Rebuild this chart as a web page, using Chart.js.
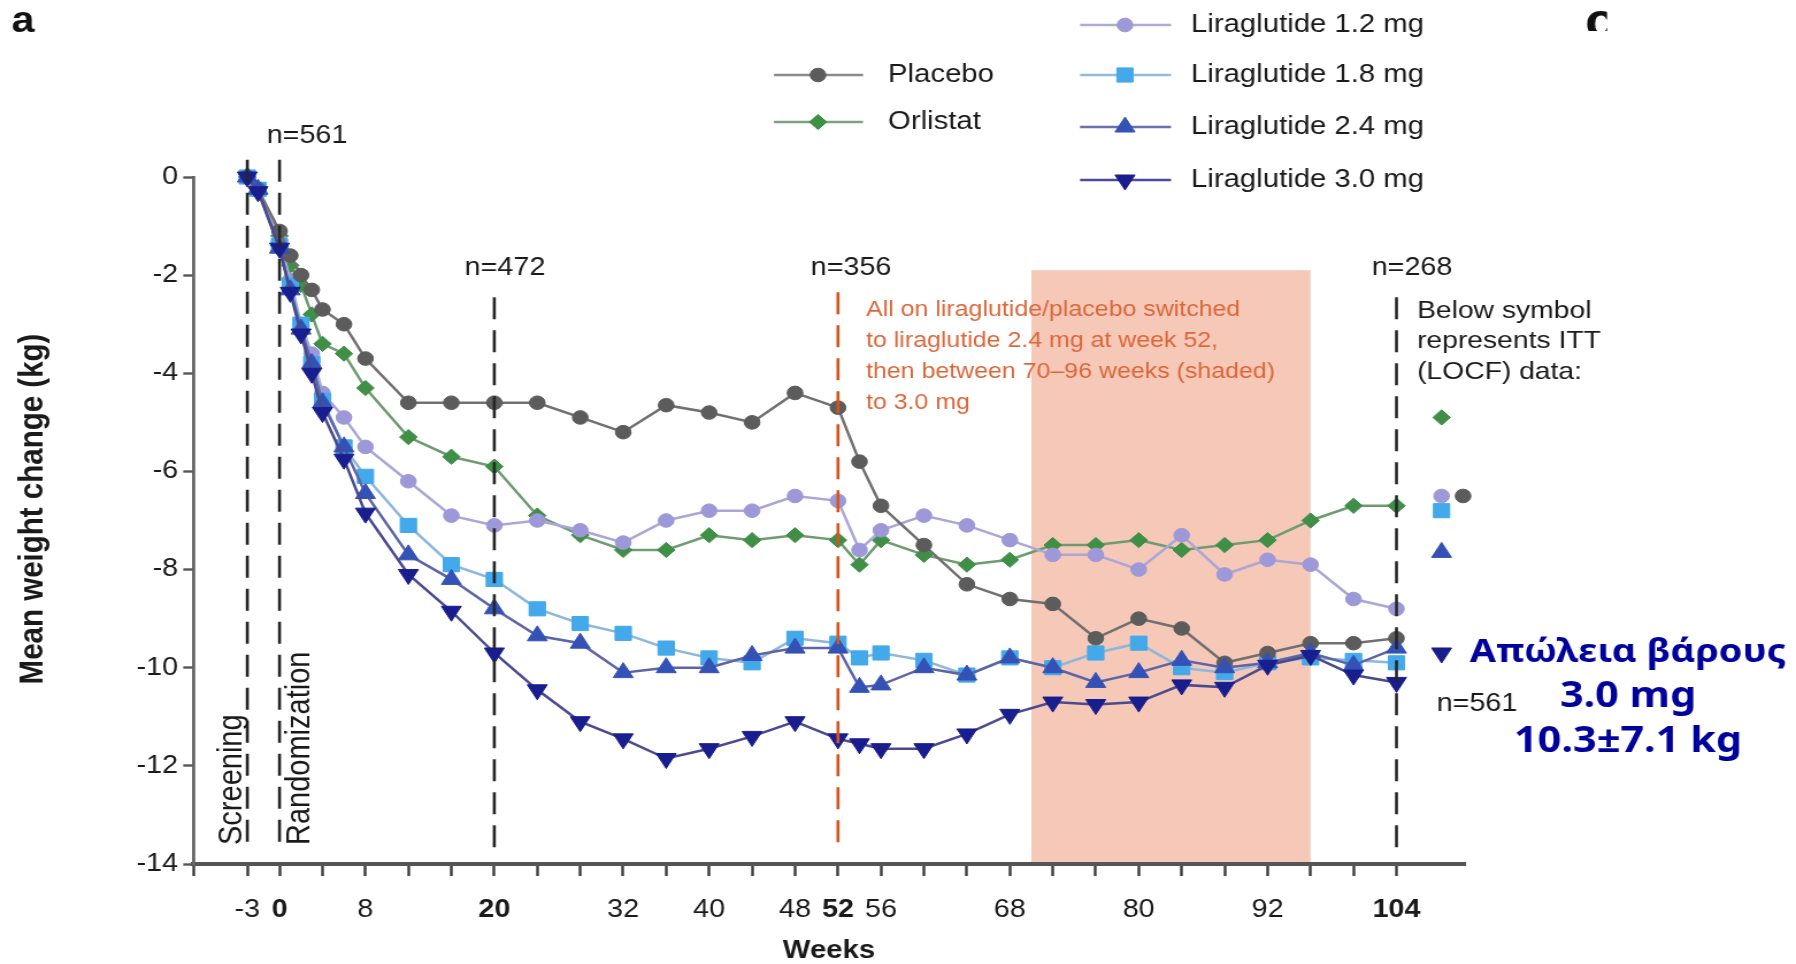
<!DOCTYPE html>
<html>
<head>
<meta charset="utf-8">
<script src="https://cdn.jsdelivr.net/npm/chart.js@4.4.1/dist/chart.umd.min.js"></script>
<style>
  html, body { margin: 0; padding: 0; background: #fff; overflow: hidden; }
  #wrap { width: 1562px; height: 964px; transform: scaleX(1.14981); transform-origin: 0 0; }
  canvas { display: block; }
</style>
</head>
<body>
<div id="wrap"><canvas id="chart" width="1562" height="964"></canvas></div>
<script>
// ---- data -------------------------------------------------------------
const weeks = [-3, -2, 0, 1, 2, 3, 4, 6, 8, 12, 16, 20, 24, 28, 32, 36, 40, 44, 48, 52, 54, 56, 60, 64, 68, 72, 76, 80, 84, 88, 92, 96, 100, 104];

const placebo = [0, -0.25, -1.1, -1.6, -2.0, -2.3, -2.7, -3.0, -3.7, -4.6, -4.6, -4.6, -4.6, -4.9, -5.2, -4.65, -4.8, -5.0, -4.4, -4.7, -5.8, -6.7, -7.5, -8.3, -8.6, -8.7, -9.4, -9.0, -9.2, -9.9, -9.7, -9.5, -9.5, -9.4];
const orlistat = [0, -0.3, -1.2, -1.8, -2.2, -2.8, -3.4, -3.6, -4.3, -5.3, -5.7, -5.9, -6.9, -7.3, -7.6, -7.6, -7.3, -7.4, -7.3, -7.4, -7.9, -7.4, -7.7, -7.9, -7.8, -7.5, -7.5, -7.4, -7.6, -7.5, -7.4, -7.0, -6.7, -6.7];
const lira12 = [0, -0.25, -1.3, -2.1, -3.0, -3.6, -4.4, -4.9, -5.5, -6.2, -6.9, -7.1, -7.0, -7.2, -7.45, -7.0, -6.8, -6.8, -6.5, -6.6, -7.6, -7.2, -6.9, -7.1, -7.4, -7.7, -7.7, -8.0, -7.3, -8.1, -7.8, -7.9, -8.6, -8.8];
const lira18 = [0, -0.25, -1.4, -2.2, -3.0, -3.8, -4.55, -5.5, -6.1, -7.1, -7.9, -8.2, -8.8, -9.1, -9.3, -9.6, -9.8, -9.9, -9.4, -9.5, -9.8, -9.7, -9.85, -10.15, -9.8, -10.0, -9.7, -9.5, -10.0, -10.1, -9.9, -9.8, -9.85, -9.9];
const lira24 = [0, -0.25, -1.45, -2.3, -3.1, -3.8, -4.6, -5.5, -6.45, -7.7, -8.2, -8.8, -9.35, -9.5, -10.1, -10.0, -10.0, -9.75, -9.6, -9.6, -10.4, -10.35, -10.0, -10.15, -9.8, -10.0, -10.3, -10.1, -9.85, -10.0, -9.9, -9.7, -9.95, -9.6];
const lira30 = [0, -0.3, -1.45, -2.35, -3.2, -4.0, -4.8, -5.75, -6.85, -8.1, -8.85, -9.7, -10.45, -11.1, -11.45, -11.85, -11.65, -11.4, -11.1, -11.45, -11.55, -11.65, -11.65, -11.35, -10.95, -10.7, -10.75, -10.7, -10.35, -10.4, -9.95, -9.75, -10.15, -10.3];

// ITT (LOCF) values shown to the right of week 104
const ittWeek = 108.2;
const ittWeekPlacebo = 110.2;
const ittPlacebo = -6.5;
const ittOrlistat = -4.9;
const ittLira12 = -6.5;
const ittLira18 = -6.8;
const ittLira24 = -7.65;
const ittLira30 = -9.7;

// axis ticks
const xTickWeeks = [-8, -3, 0, 4, 8, 12, 16, 20, 24, 28, 32, 36, 40, 44, 48, 52, 56, 60, 64, 68, 72, 76, 80, 84, 88, 92, 96, 100, 104];
const xTickLabels = ['-3', '0', '8', '20', '32', '40', '48', '52', '56', '68', '80', '92', '104'];
const xBoldLabels = ['0', '20', '52', '104'];
const yTicks = [0, -2, -4, -6, -8, -10, -12, -14];

// study phases
const shadeWeeks = [70, 96];
const markerWeeks = [-3, 0, 20, 52, 104];

// ---- layout helpers ---------------------------------------------------
const STRETCH = 1796 / 1562;          // the canvas is widened by CSS
const px = v => v / STRETCH;          // page x -> canvas x
const FONT = "'Liberation Sans', Arial, Helvetica, sans-serif";

const styles = {
  placebo: { line: '#707070', mark: '#5c5c5c', shape: 'circle', r: 6.8, rot: 0 },
  orlistat: { line: '#6e9c71', mark: '#3f8f46', shape: 'rectRot', r: 7.6, rot: 0 },
  lira12: { line: '#aaa7d8', mark: '#9d99d9', shape: 'circle', r: 6.8, rot: 0 },
  lira18: { line: '#8db7dc', mark: '#43a9ea', shape: 'rect', r: 10, rot: 0 },
  lira24: { line: '#5d65a8', mark: '#3452b6', shape: 'triangle', r: 10, rot: 0 },
  lira30: { line: '#4a4a8f', mark: '#191e8e', shape: 'triangle', r: 10, rot: 180 }
};

function series(label, vals, st, order) {
  return {
    label,
    data: weeks.map((w, i) => ({ x: w, y: vals[i] })),
    borderColor: st.line,
    backgroundColor: st.mark,
    pointBackgroundColor: st.mark,
    pointBorderColor: st.mark,
    pointBorderWidth: 1,
    pointStyle: st.shape,
    pointRadius: st.r,
    pointRotation: st.rot,
    borderWidth: 2.5,
    tension: 0,
    clip: false,
    order
  };
}

function itt(label, week, val, st, order) {
  return {
    label,
    data: [{ x: week, y: val }],
    showLine: false,
    backgroundColor: st.mark,
    pointBackgroundColor: st.mark,
    pointBorderColor: st.mark,
    pointBorderWidth: 1,
    pointStyle: st.shape,
    pointRadius: st.r,
    pointRotation: st.rot,
    clip: false,
    order
  };
}

function drawMarker(ctx, st, x, y) {
  ctx.save();
  ctx.fillStyle = st.mark;
  ctx.strokeStyle = st.mark;
  ctx.lineWidth = 1;
  if (Chart.helpers && Chart.helpers.drawPoint) {
    Chart.helpers.drawPoint(ctx, { pointStyle: st.shape, radius: st.r, rotation: st.rot, borderWidth: 1 }, x, y);
  }
  ctx.restore();
}

// ---- plugins ----------------------------------------------------------
const backdrop = {
  id: 'backdrop',
  beforeDraw(chart) {
    const { ctx, chartArea } = chart;
    const { x, y } = chart.scales;
    ctx.save();
    ctx.fillStyle = '#ffffff';
    ctx.fillRect(0, 0, chart.width, chart.height);
    const l = x.getPixelForValue(shadeWeeks[0]);
    const r = x.getPixelForValue(shadeWeeks[1]);
    const t = y.getPixelForValue(-1.9);
    ctx.fillStyle = 'rgb(246, 200, 184)';
    ctx.fillRect(l, t, r - l, chartArea.bottom - 2 - t);
    ctx.restore();
  }
};

const phaseLines = {
  id: 'phaseLines',
  afterDatasetsDraw(chart) {
    const { ctx } = chart;
    const { x, y } = chart.scales;
    const tops = { '-3': 0.35, '0': 0.35, '20': -2.45, '52': -2.35, '104': -2.45 };
    ctx.save();
    ctx.lineWidth = 2.6;
    ctx.setLineDash([22, 11]);
    markerWeeks.forEach(w => {
      const xp = x.getPixelForValue(w);
      ctx.strokeStyle = w === 52 ? '#d4561f' : '#262626';
      ctx.beginPath();
      ctx.moveTo(xp, y.getPixelForValue(tops[String(w)]));
      ctx.lineTo(xp, y.getPixelForValue(-13.7));
      ctx.stroke();
    });
    ctx.restore();
  }
};

const annotations = {
  id: 'annotations',
  afterDraw(chart) {
    const { ctx } = chart;
    ctx.save();
    ctx.textBaseline = 'middle';

    // panel letter
    ctx.fillStyle = '#111';
    ctx.font = `bold 36px ${FONT}`;
    ctx.textAlign = 'center';
    ctx.fillText('a', px(23), 22);

    // neighbouring panel letter, cut at the edge
    ctx.save();
    ctx.beginPath();
    ctx.rect(px(1580), 0, px(1607) - px(1580), 31);
    ctx.clip();
    ctx.textAlign = 'left';
    ctx.textBaseline = 'alphabetic';
    ctx.font = `bold 48px ${FONT}`;
    ctx.fillText('c', px(1585), 37);
    ctx.restore();

    // legend
    ctx.textAlign = 'left';
    ctx.textBaseline = 'middle';
    const legendRows = [
      { st: styles.placebo, text: 'Placebo', l: 774, r: 863, m: 818, t: 888, y: 75, lc: '#8a8a8a' },
      { st: styles.orlistat, text: 'Orlistat', l: 774, r: 863, m: 818, t: 888, y: 122, lc: '#7f9e82' },
      { st: styles.lira12, text: 'Liraglutide 1.2 mg', l: 1080, r: 1171, m: 1125, t: 1191, y: 25, lc: '#aeacd2' },
      { st: styles.lira18, text: 'Liraglutide 1.8 mg', l: 1080, r: 1171, m: 1125, t: 1191, y: 75, lc: '#8fbbe0' },
      { st: styles.lira24, text: 'Liraglutide 2.4 mg', l: 1080, r: 1171, m: 1125, t: 1191, y: 127, lc: '#6a70ad' },
      { st: styles.lira30, text: 'Liraglutide 3.0 mg', l: 1080, r: 1171, m: 1125, t: 1191, y: 180, lc: '#4a4aa0' }
    ];
    legendRows.forEach(row => {
      ctx.strokeStyle = row.lc;
      ctx.lineWidth = 2.6;
      ctx.beginPath();
      ctx.moveTo(px(row.l), row.y);
      ctx.lineTo(px(row.r), row.y);
      ctx.stroke();
      drawMarker(ctx, row.st, px(row.m), row.y);
      ctx.fillStyle = '#1a1a1a';
      ctx.font = `25.5px ${FONT}`;
      ctx.fillText(row.text, px(row.t), row.y);
    });

    // sample sizes
    ctx.fillStyle = '#1a1a1a';
    ctx.font = `25px ${FONT}`;
    ctx.textAlign = 'center';
    [['n=561', 307, 136], ['n=472', 505, 268], ['n=356', 851, 268], ['n=268', 1412, 268], ['n=561', 1477, 704]]
      .forEach(([t, xx, yy]) => ctx.fillText(t, px(xx), yy));

    // note about the extension period
    ctx.fillStyle = '#dc673a';
    ctx.font = `21.7px ${FONT}`;
    ctx.textAlign = 'left';
    ['All on liraglutide/placebo switched', 'to liraglutide 2.4 mg at week 52,',
     'then between 70\u201396 weeks (shaded)', 'to 3.0 mg']
      .forEach((t, i) => ctx.fillText(t, px(866), 310 + i * 31));

    // ITT explanation
    ctx.fillStyle = '#1a1a1a';
    ctx.font = `24.6px ${FONT}`;
    ['Below symbol', 'represents ITT', '(LOCF) data:']
      .forEach((t, i) => ctx.fillText(t, px(1417), 311 + i * 30.5));

    // phase labels, vertical
    ctx.font = `29px ${FONT}`;
    ctx.textBaseline = 'alphabetic';
    [['Screening', 241], ['Randomization', 309]].forEach(([t, xx]) => {
      ctx.save();
      ctx.translate(px(xx), 845);
      ctx.rotate(-Math.PI / 2);
      ctx.fillText(t, 0, 0);
      ctx.restore();
    });

    // axis titles
    ctx.textBaseline = 'middle';
    ctx.textAlign = 'center';
    ctx.font = `bold 25.5px ${FONT}`;
    ctx.fillText('Weeks', px(829), 951);
    ctx.save();
    ctx.translate(px(33), 509);
    ctx.rotate(-Math.PI / 2);
    ctx.font = `bold 29.5px ${FONT}`;
    ctx.fillText('Mean weight change (kg)', 0, 0);
    ctx.restore();

    // highlighted result for 3.0 mg
    ctx.fillStyle = '#00009c';
    ctx.textAlign = 'center';
    [['Απώλεια βάρους', 653, 33], ['3.0 mg', 697, 36], ['10.3±7.1 kg', 742, 36]]
      .forEach(([t, yy, size]) => {
        ctx.font = `bold ${size}px 'Noto Sans', 'Open Sans', sans-serif`;
        ctx.fillText(t, px(1628), yy);
      });

    ctx.restore();
  }
};

// ---- chart ------------------------------------------------------------
new Chart(document.getElementById('chart'), {
  type: 'line',
  data: {
    datasets: [
      series('Liraglutide 3.0 mg', lira30, styles.lira30, 1),
      series('Liraglutide 2.4 mg', lira24, styles.lira24, 2),
      series('Placebo', placebo, styles.placebo, 3),
      series('Liraglutide 1.8 mg', lira18, styles.lira18, 4),
      series('Liraglutide 1.2 mg', lira12, styles.lira12, 5),
      series('Orlistat', orlistat, styles.orlistat, 6),
      itt('Orlistat ITT', ittWeek, ittOrlistat, styles.orlistat, 7),
      itt('Placebo ITT', ittWeekPlacebo, ittPlacebo, styles.placebo, 7),
      itt('Liraglutide 1.8 mg ITT', ittWeek, ittLira18, styles.lira18, 7),
      itt('Liraglutide 1.2 mg ITT', ittWeek, ittLira12, styles.lira12, 6.5),
      itt('Liraglutide 2.4 mg ITT', ittWeek, ittLira24, styles.lira24, 7),
      itt('Liraglutide 3.0 mg ITT', ittWeek, ittLira30, styles.lira30, 7)
    ]
  },
  options: {
    responsive: false,
    maintainAspectRatio: false,
    animation: false,
    devicePixelRatio: 1,
    events: [],
    layout: { padding: { top: 177, right: 1562 - px(1465.2), bottom: 0, left: 0 } },
    plugins: { legend: { display: false }, tooltip: { enabled: false } },
    scales: {
      x: {
        type: 'linear',
        min: -8,
        max: 110.4,
        afterBuildTicks: s => { s.ticks = xTickWeeks.map(v => ({ value: v })); },
        afterFit: s => { s.height = 100; },
        ticks: {
          autoSkip: false,
          maxRotation: 0,
          minRotation: 0,
          padding: 19,
          color: '#1a1a1a',
          font: ctx => ({
            family: FONT,
            size: 25,
            weight: ctx.tick && xBoldLabels.includes(String(ctx.tick.value)) ? 'bold' : 'normal'
          }),
          callback: v => (xTickLabels.includes(String(v)) ? String(v) : '')
        },
        grid: { drawOnChartArea: false, drawTicks: true, tickLength: 12, tickWidth: 2.4, tickColor: '#3c3c3c' },
        border: { display: true, color: '#555555', width: 4 }
      },
      y: {
        type: 'linear',
        min: -14,
        max: 0,
        afterBuildTicks: s => { s.ticks = yTicks.map(v => ({ value: v })); },
        afterFit: s => { s.width = px(193.6); },
        ticks: {
          padding: 4.5,
          color: '#1a1a1a',
          font: { family: FONT, size: 25 },
          callback: v => String(v)
        },
        grid: { drawOnChartArea: false, drawTicks: true, tickLength: 9, tickWidth: 2.4, tickColor: '#555555' },
        border: { display: true, color: '#666666', width: 2.8 }
      }
    }
  },
  plugins: [backdrop, phaseLines, annotations]
});
</script>
</body>
</html>
